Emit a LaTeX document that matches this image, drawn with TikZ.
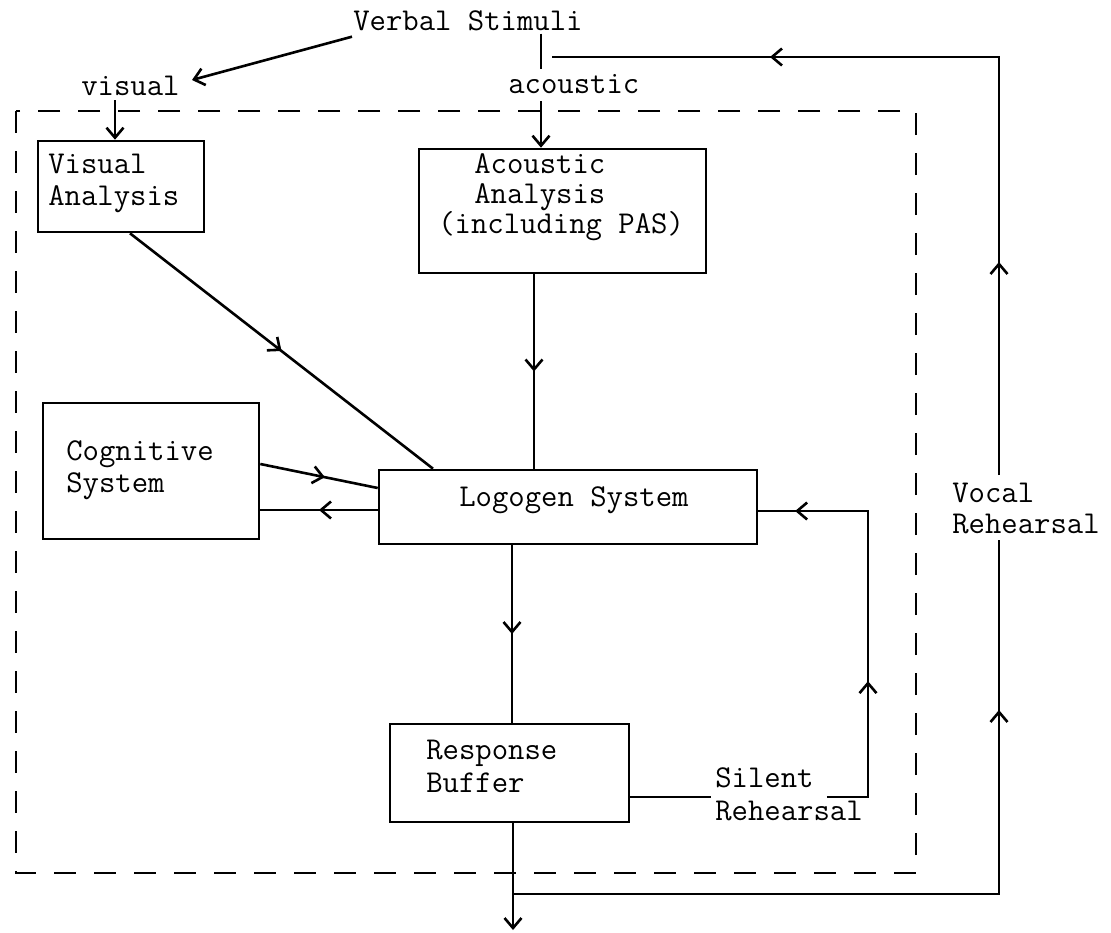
\documentclass[tikz,border=0pt]{standalone}
\usepackage{fontspec}
\usetikzlibrary{arrows.meta,decorations.markings}
\begin{document}
\begin{tikzpicture}[x=1pt,y=-1pt,
  line width=2.6pt,
  tx/.style={font=\ttfamily\fontsize{31.8}{32}\selectfont, inner sep=0pt, anchor=base west},
  box/.style={draw, line width=2.6pt, inner sep=0pt},
  tip/.style={-{Straight Barb[length=10pt,width=17pt]}},
  marr/.style={postaction={decorate,decoration={markings,mark=at position #1 with {\arrow{Straight Barb[length=10pt,width=17pt]}}}}},
  dashbox/.style={draw, line width=2.4pt, dash pattern=on 22pt off 18pt}]
\useasboundingbox (0,0) rectangle (1111,932);

% dashed boundary
\draw[dashbox] (16,111) rectangle (916,873);

% boxes
\node[box, minimum width=166pt, minimum height=91pt]  (va) at (121,186.5) {};
\node[box, minimum width=287pt, minimum height=124pt] (aa) at (562.5,211) {};
\node[box, minimum width=216pt, minimum height=136pt] (cs) at (151,471) {};
\node[box, minimum width=378pt, minimum height=74pt]  (lg) at (568,507) {};
\node[box, minimum width=239pt, minimum height=98pt]  (rb) at (509.5,773) {};

% texts
\node[tx] (vs)  at (352,30)  {Verbal Stimuli};
\node[tx] (vis) at (80,95)   {visual};
\node[tx] (ac)  at (507,93)  {acoustic};
\node[tx] (va1) at (47,173)  {Visual};
\node[tx] (va2) at (47,205)  {Analysis};
\node[tx] (aa1) at (473,173) {Acoustic};
\node[tx] (aa2) at (473,203) {Analysis};
\node[tx] (aa3) at (437,233) {(including PAS)};
\node[tx] (cs1) at (65,460)  {Cognitive};
\node[tx] (cs2) at (65,492)  {System};
\node[tx] (lg1) at (458,506) {Logogen System};
\node[tx] (rb1) at (425,759) {Response};
\node[tx] (rb2) at (425,792) {Buffer};
\node[tx] (sr1) at (714,787) {Silent};
\node[tx] (sr2) at (714,820) {Rehearsal};
\node[tx] (vr1) at (951,502) {Vocal};
\node[tx] (vr2) at (951,533) {Rehearsal};

% helper coordinates
\coordinate (vtip) at (192,80);
\coordinate (vx) at (115,0);
\coordinate (sx) at (541,0);
\coordinate (d1) at (130,0);
\coordinate (d2) at (433,0);
\coordinate (ax) at (534,0);
\coordinate (c1) at (0,464);
\coordinate (c2) at (0,488);
\coordinate (c3) at (0,510);
\coordinate (bx) at (512,0);
\coordinate (sy) at (0,797);
\coordinate (sc) at (868,797);
\coordinate (ry) at (0,511);
\coordinate (ox) at (513,0);
\coordinate (oend) at (513,930);
\coordinate (vb) at (999,894);
\coordinate (vlow) at (999,540);
\coordinate (vhigh) at (999,475);
\coordinate (vtop) at (999,57);
\coordinate (vend) at (552,57);

% connectors
\draw[tip] ([yshift=-5pt]vs.south west) -- (vtip);
\draw[tip] ([yshift=-4pt]vis.south -| vx) -- (va.north -| vx);
\draw ([yshift=-2pt]vs.south -| sx) -- ([yshift=4pt]ac.north -| sx);
\draw[tip] ([yshift=-7pt]ac.south -| sx) -- (aa.north -| sx);
\draw[marr=0.5] (va.south -| d1) -- (lg.north -| d2);
\draw[marr=0.5] (aa.south -| ax) -- (lg.north -| ax);
\draw[marr=0.55] (cs.east |- c1) -- (lg.west |- c2);
\draw[marr=0.5] (lg.west |- c3) -- (cs.east |- c3);
\draw[marr=0.5] (lg.south -| bx) -- (rb.north -| bx);
\draw (rb.east |- sy) -- ([xshift=-3pt]sr1.west |- sy);
\draw[marr=157pt, marr=400pt] ([xshift=12pt]sr1.east |- sy) -- (sc) -- (sc |- ry) -- (lg.east |- ry);
\draw[tip] (rb.south -| ox) -- (oend);
\draw[marr=670pt] (ox |- vb) -- (vb) -- (vlow);
\draw[marr=213pt, marr=647pt] (vhigh) -- (vtop) -- (vend);
\end{tikzpicture}
\end{document}
